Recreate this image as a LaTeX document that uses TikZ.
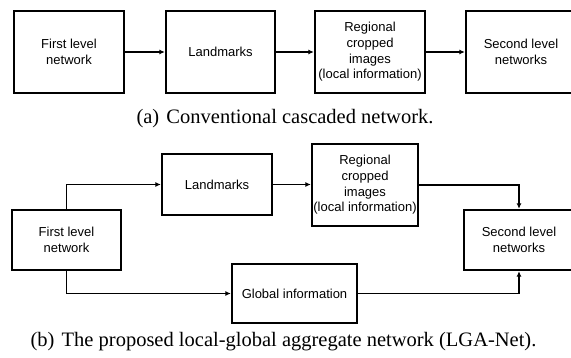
\documentclass[tikz,border=0pt]{standalone}
\usepackage{fontspec}
\setmainfont{Liberation Serif}
\newfontfamily\boxfont{Liberation Sans}
\usetikzlibrary{arrows.meta}
\tikzset{
  blk/.style={draw, line width=2.3pt, minimum width=110pt, minimum height=82pt, align=center,
    inner sep=1pt, font=\boxfont\fontsize{13}{15.6}\selectfont},
  conn/.style={line width=1.6pt, -{Latex[length=5.5pt,width=5pt]}},
  captext/.style={font=\fontsize{20.5}{24}\selectfont, inner sep=0pt}
}
\begin{document}
\begin{tikzpicture}[x=1pt,y=-1pt]
\useasboundingbox (0,0) rectangle (571,358);
\clip (0,0) rectangle (571,358);
% (a)
\node[blk] (a1) at (69,52) {First level\\network};
\node[blk, minimum width=109pt] (a2) at (220.5,52) {Landmarks};
\node[blk] (a3) at (370,52) {Regional\\cropped\\images\\(local information)};
\node[blk] (a4) at (521,52) {Second level\\networks};
\draw[conn] (a1) -- (a2);
\draw[conn] (a2) -- (a3);
\draw[conn] (a3) -- (a4);
\node[captext] (ca) at (285,118.5) {(a)\hspace{0.35em}Conventional cascaded network.};
% (b)
\node[blk, minimum width=109pt, minimum height=60pt] (b1) at (66.5,240) {First level\\network};
\node[blk, minimum height=61pt] (b2) at (217,184.5) {Landmarks};
\node[blk, minimum width=106pt] (b3) at (365,185) {Regional\\cropped\\images\\(local information)};
\node[blk, minimum width=125pt, minimum height=59pt] (b4) at (294.5,293.5) {Global information};
\node[blk, minimum height=60pt] (b5) at (519,240) {Second level\\networks};
\draw[conn] (b1.north) |- (b2.west);
\draw[conn] (b2.east) -- (b2.east -| b3.west);
\draw[conn] (b3.east) -| (b5.north);
\draw[conn] (b1.south) |- (b4.west);
\draw[conn] (b4.east) -| (b5.south);
\node[captext] (cb) at (283.5,341.5) {(b)\hspace{0.35em}The proposed local-global aggregate network (LGA-Net).};
\end{tikzpicture}
\end{document}
